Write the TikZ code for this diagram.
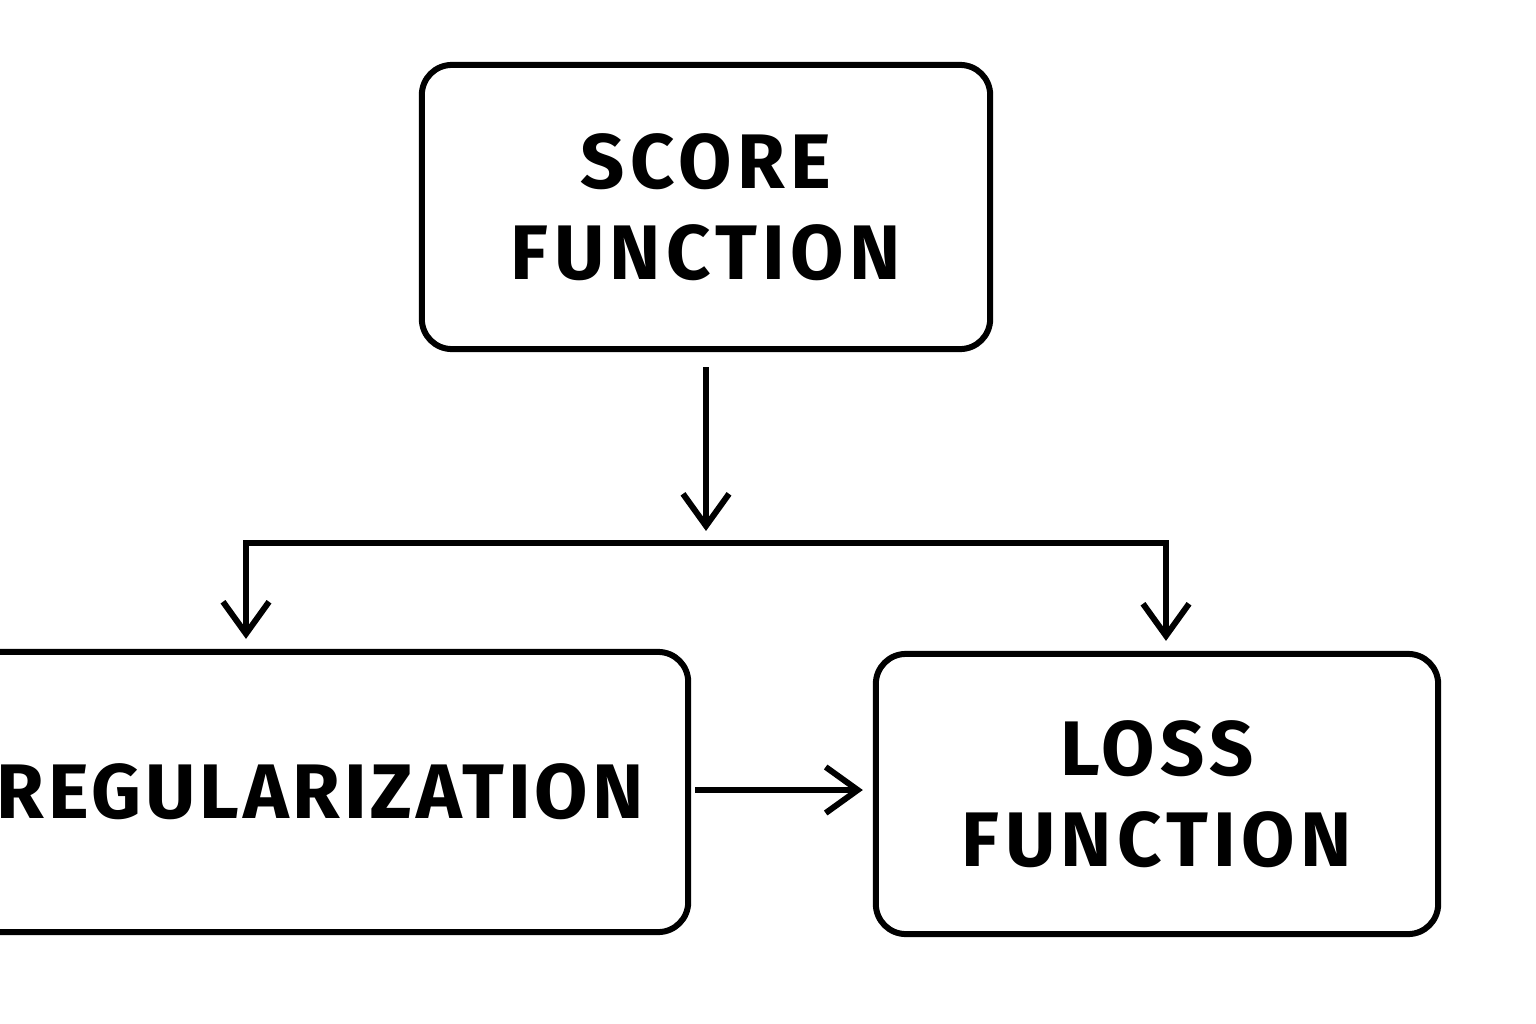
\documentclass[tikz,border=0pt]{standalone}
\usepackage{fontspec}
\setmainfont{Fira Sans}
\usetikzlibrary{arrows.meta}
\begin{document}
\begin{tikzpicture}[x=0.01cm,y=-0.01cm,
  box/.style={draw=black,line width=0.06cm,rounded corners=0.3cm,align=center,inner sep=0pt,
    font=\fontsize{22}{26}\selectfont\bfseries\addfontfeatures{LetterSpace=7}},
  conn/.style={line width=0.06cm,-{Straight Barb[length=0.32cm,width=0.46cm,line width=0.06cm]}},
  plain/.style={line width=0.06cm}]
\useasboundingbox (0,0) rectangle (1536,1024);
\clip (0,0) rectangle (1536,1024);
\node[box,minimum width=5.68cm,minimum height=2.84cm] (score) at (706,207) {SCORE\\FUNCTION};
\node[box,minimum width=7.36cm,minimum height=2.8cm] (reg) at (320,792) {\addfontfeatures{LetterSpace=5}REGULARIZATION};
\node[box,minimum width=5.62cm,minimum height=2.8cm] (loss) at (1157,794) {LOSS\\FUNCTION};
\coordinate (j) at (706,543);
\coordinate (lt) at (246,543);
\coordinate (rt) at (1166,543);
\draw[conn,shorten <=0.15cm,shorten >=0.12cm] (score.south) -- (j);
\draw[plain,line cap=rect] (lt) -- (rt);
\draw[conn,shorten >=0.1cm] (lt) -- (lt |- reg.north);
\draw[conn,shorten >=0.1cm] (rt) -- (rt |- loss.north);
\draw[conn,shorten <=0.04cm,shorten >=0.1cm] ([yshift=0.02cm]reg.east) -- ([yshift=0.02cm]reg.east -| loss.west);
\end{tikzpicture}
\end{document}
